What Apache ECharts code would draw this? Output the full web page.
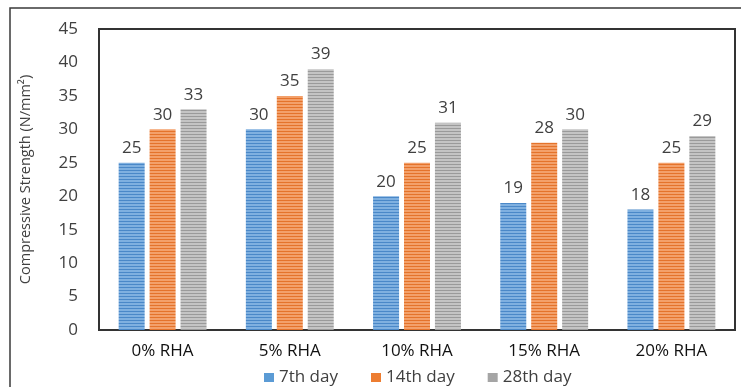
<!DOCTYPE html>
<html>
<head>
<meta charset="utf-8">
<script src="https://cdn.jsdelivr.net/npm/echarts@6/dist/echarts.min.js"></script>
<style>
  html, body { margin: 0; padding: 0; background: #fff; }
  #chart { width: 741px; height: 387px; }
</style>
</head>
<body>
<div id="chart"></div>
<script>
// Compressive strength of mixes with rice husk ash (RHA)
const categories = ['0% RHA', '5% RHA', '10% RHA', '15% RHA', '20% RHA'];
const day7 = [25, 30, 20, 19, 18];
const day14 = [30, 35, 25, 28, 25];
const day28 = [33, 39, 31, 30, 29];
const seriesNames = ['7th day', '14th day', '28th day'];
const yTicks = { min: 0, max: 45, interval: 5 };

// Horizontal line texture used to fill each bar
function stripes(light, dark) {
  const c = document.createElement('canvas');
  c.width = 4; c.height = 3;
  const g = c.getContext('2d');
  g.fillStyle = light; g.fillRect(0, 0, 4, 3);
  g.fillStyle = dark; g.fillRect(0, 2, 4, 1);
  return { image: c, repeat: 'repeat' };
}

const fills = [
  stripes('#7fb0e0', '#4a88c8'),
  stripes('#f3a06a', '#e4732b'),
  stripes('#c4c4c4', '#9a9a9a')
];
const legendColors = ['#5b9bd5', '#ed7d31', '#a5a5a5'];
const font = '"Open Sans", "DejaVu Sans", sans-serif';

function bar(name, data, i) {
  return {
    name: name,
    type: 'bar',
    data: data,
    barWidth: 26,
    barGap: '19%',
    itemStyle: { color: fills[i] },
    label: {
      show: true, position: 'top', distance: 6,
      color: '#404040', fontSize: 17, fontFamily: font
    }
  };
}

const chart = echarts.init(document.getElementById('chart'));
chart.setOption({
  animation: false,
  graphic: [{
    type: 'rect',
    shape: { x: 10, y: 8, width: 740, height: 400 },
    style: { fill: 'none', stroke: '#3a3a3a', lineWidth: 1.5 },
    silent: true, z: -1
  }],
  grid: {
    left: 99, top: 29, right: 6, bottom: 57,
    show: true, borderColor: '#333', borderWidth: 2, backgroundColor: '#fff'
  },
  legend: {
    bottom: -4, left: 259,
    itemWidth: 10, itemHeight: 9, itemGap: 33,
    icon: 'rect',
    textStyle: { color: '#404040', fontSize: 17, fontFamily: font },
    data: seriesNames.map((n, i) => ({ name: n, itemStyle: { color: legendColors[i] } }))
  },
  xAxis: {
    type: 'category',
    data: categories,
    axisLine: { show: false },
    axisTick: { show: false },
    axisLabel: { color: '#111', fontSize: 17, fontFamily: font, margin: 13 }
  },
  yAxis: {
    type: 'value',
    min: yTicks.min, max: yTicks.max, interval: yTicks.interval,
    name: 'Compressive Strength (N/mm²)',
    nameLocation: 'middle',
    nameGap: 66,
    nameTextStyle: { color: '#404040', fontSize: 14.5, fontFamily: font },
    axisLine: { show: false },
    axisTick: { show: false },
    splitLine: { show: false },
    axisLabel: { color: '#404040', fontSize: 17, fontFamily: font, margin: 21 }
  },
  series: [
    bar(seriesNames[0], day7, 0),
    bar(seriesNames[1], day14, 1),
    bar(seriesNames[2], day28, 2)
  ]
});
</script>
</body>
</html>
